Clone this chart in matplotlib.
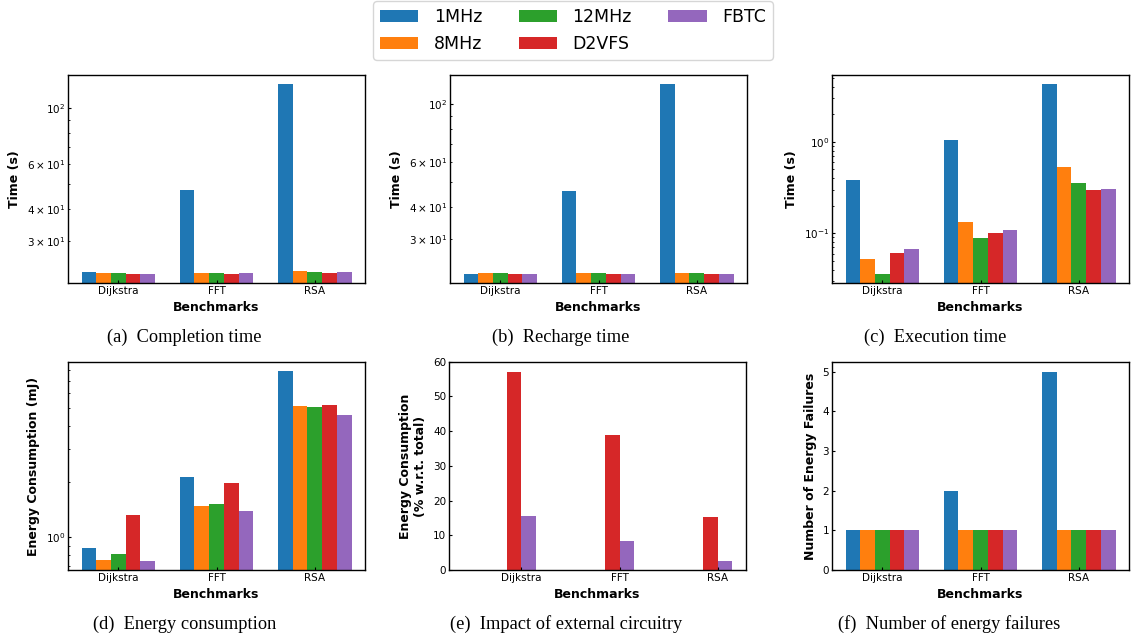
import matplotlib
matplotlib.use("Agg")
import matplotlib.pyplot as plt
import numpy as np

benchmarks = ["Dijkstra", "FFT", "RSA"]
series = ["1MHz", "8MHz", "12MHz", "D2VFS", "FBTC"]
colors = ["#1f77b4", "#ff7f0e", "#2ca02c", "#d62728", "#9467bd"]

# (a) Completion time (s)
completion_1mhz = [22.7, 47.6, 123.9]
completion_8mhz = [22.5, 22.5, 22.9]
completion_12mhz = [22.5, 22.5, 22.7]
completion_d2vfs = [22.3, 22.3, 22.5]
completion_fbtc = [22.3, 22.5, 22.7]

# (b) Recharge time (s)
recharge_1mhz = [22.1, 46.3, 119.8]
recharge_8mhz = [22.3, 22.3, 22.3]
recharge_12mhz = [22.3, 22.3, 22.3]
recharge_d2vfs = [22.1, 22.1, 22.1]
recharge_fbtc = [22.1, 22.1, 22.1]

# (c) Execution time (s)
execution_1mhz = [0.382, 1.044, 4.26]
execution_8mhz = [0.0526, 0.133, 0.530]
execution_12mhz = [0.0361, 0.0891, 0.3545]
execution_d2vfs = [0.0611, 0.101, 0.2974]
execution_fbtc = [0.0676, 0.1089, 0.3049]

# (d) Energy consumption (mJ)
energy_1mhz = [0.880, 2.12, 7.88]
energy_8mhz = [0.759, 1.48, 5.11]
energy_12mhz = [0.817, 1.517, 5.04]
energy_d2vfs = [1.325, 1.968, 5.17]
energy_fbtc = [0.749, 1.392, 4.57]

# (e) Impact of external circuitry (% w.r.t. total)
impact_1mhz = [0.2, 0.2, 0.2]
impact_8mhz = [0.2, 0.2, 0.2]
impact_12mhz = [0.2, 0.2, 0.2]
impact_d2vfs = [57.0, 38.9, 15.3]
impact_fbtc = [15.6, 8.4, 2.6]

# (f) Number of energy failures
failures_1mhz = [1, 2, 5]
failures_8mhz = [1, 1, 1]
failures_12mhz = [1, 1, 1]
failures_d2vfs = [1, 1, 1]
failures_fbtc = [1, 1, 1]

panels = [
    ([completion_1mhz, completion_8mhz, completion_12mhz, completion_d2vfs, completion_fbtc],
     "Time (s)", True, "(a)  Completion time"),
    ([recharge_1mhz, recharge_8mhz, recharge_12mhz, recharge_d2vfs, recharge_fbtc],
     "Time (s)", True, "(b)  Recharge time"),
    ([execution_1mhz, execution_8mhz, execution_12mhz, execution_d2vfs, execution_fbtc],
     "Time (s)", True, "(c)  Execution time"),
    ([energy_1mhz, energy_8mhz, energy_12mhz, energy_d2vfs, energy_fbtc],
     "Energy Consumption (mJ)", True, "(d)  Energy consumption"),
    ([impact_1mhz, impact_8mhz, impact_12mhz, impact_d2vfs, impact_fbtc],
     "Energy Consumption\n(% w.r.t. total)", False, "(e)  Impact of external circuitry"),
    ([failures_1mhz, failures_8mhz, failures_12mhz, failures_d2vfs, failures_fbtc],
     "Number of Energy Failures", False, "(f)  Number of energy failures"),
]

W, H = 1131, 642
fig = plt.figure(figsize=(W / 100, H / 100), dpi=100)

lefts = [68, 450, 832, 68, 449, 832]
tops = [74.7, 74.7, 74.7, 361.7, 361.7, 361.7]
aw, ah = 297, 208.5
cap_x = [184, 561, 935, 185, 566, 949]
cap_y = [337, 337, 337, 624, 624, 624]

x = np.arange(len(benchmarks))
w = 0.15
handles = None
for k, (data, ylabel, logy, caption) in enumerate(panels):
    ax = fig.add_axes([lefts[k] / W, 1 - (tops[k] + ah) / H, aw / W, ah / H])
    hs = []
    for i, vals in enumerate(data):
        b = ax.bar(x + (i - 2) * w, vals, w, color=colors[i], label=series[i], log=logy)
        hs.append(b)
    if handles is None:
        handles = hs
    if k == 4:
        ax.set_xticks(x + 1.5 * w)
        ax.set_ylim(0, 60)
    else:
        ax.set_xticks(x)
    ax.set_xticklabels(benchmarks)
    ax.tick_params(axis="both", which="both", labelsize=7.5, direction="in", pad=2)
    ax.tick_params(axis="both", which="major", length=2.5)
    ax.tick_params(axis="both", which="minor", length=1.5)
    ax.set_xlabel("Benchmarks", fontsize=9, fontweight="bold", labelpad=3.5)
    ax.set_ylabel(ylabel, fontsize=9, fontweight="bold", labelpad=4.3)
    for sp in ax.spines.values():
        sp.set_linewidth(1.0)
    fig.text(cap_x[k] / W, 1 - cap_y[k] / H, caption, ha="center", va="center",
             fontsize=13.2, family="Liberation Serif")

fig.legend(handles, series, loc="upper center", ncol=3, fontsize=12.5,
           bbox_to_anchor=(573 / W, 1.0), borderaxespad=0.08, frameon=True,
           handlelength=2.2, handletextpad=0.9, columnspacing=2.1)

fig.savefig("out.png", dpi=100)
